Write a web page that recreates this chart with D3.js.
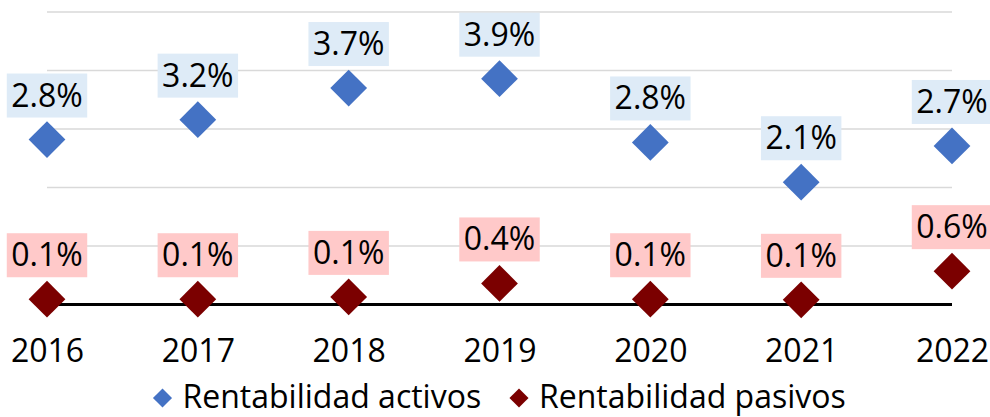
<!DOCTYPE html>
<html><head><meta charset="utf-8">
<script src="https://cdn.jsdelivr.net/npm/d3@7"></script>
<style>body{margin:0;background:#fff}svg{display:block;font-family:"Open Sans",sans-serif}</style>
</head><body><svg id="c" width="990" height="417"></svg>
<script>
const years = ["2016","2017","2018","2019","2020","2021","2022"];
const activos = [2.82, 3.16, 3.7, 3.86, 2.77, 2.09, 2.71];
const pasivos = [0.09, 0.09, 0.13, 0.36, 0.09, 0.08, 0.57];
const yTicks = [0, 1, 2, 3, 4, 5];
const seriesNames = ["Rentabilidad activos", "Rentabilidad pasivos"];
const colors = ["#4472C4", "#7B0000"];
const boxColors = ["#DEEBF7", "#FFC9C9"];

const svg = d3.select("#c");
const x = d3.scalePoint().domain(years).range([47, 952]);
const y = d3.scaleLinear().domain([0, 5]).range([304.5, 12]);
const fmt = d3.format(".1f");
const FS = 32;

// gridlines
svg.append("g").selectAll("line").data(yTicks.filter(d => d > 0)).join("line")
  .attr("x1", 47).attr("x2", 952)
  .attr("y1", d => y(d)).attr("y2", d => y(d))
  .attr("stroke", "#D9D9D9").attr("stroke-width", 1.5);

// x axis
const xAxis = d3.axisBottom(x).tickSize(0).tickPadding(0);
const gx = svg.append("g").attr("transform", `translate(0,${y(0)})`).call(xAxis);
gx.select(".domain").attr("d", `M47,0H952`).attr("stroke", "#000").attr("stroke-width", 3);
gx.selectAll(".tick text").attr("font-size", FS).attr("fill", "#000")
  .attr("font-family", "Open Sans").attr("dy", null).attr("y", 57.5);

const diamond = d3.symbol().type(d3.symbolSquare).size(26 * 26);

[activos, pasivos].forEach((vals, si) => {
  const g = svg.append("g");
  g.selectAll("path").data(vals).join("path")
    .attr("d", diamond)
    .attr("transform", (d, i) => `translate(${x(years[i])},${y(d)}) rotate(45)`)
    .attr("fill", colors[si]);
  const lg = g.append("g");
  vals.forEach((v, i) => {
    const cx = x(years[i]);
    const bottom = y(v) - 22;
    const t = lg.append("text").text(fmt(v) + "%")
      .attr("x", cx).attr("y", bottom - 11).attr("text-anchor", "middle")
      .attr("font-size", FS).attr("fill", "#000");
    const bb = t.node().getBBox();
    lg.insert("rect", "text")
      .attr("x", bb.x - 4.5).attr("width", bb.width + 9)
      .attr("y", bottom - 44).attr("height", 44)
      .attr("fill", boxColors[si]);
  });
});

// legend
const legX = [162.5, 519];
const smallD = d3.symbol().type(d3.symbolSquare).size(13.5 * 13.5);
seriesNames.forEach((n, i) => {
  svg.append("path").attr("d", smallD)
    .attr("transform", `translate(${legX[i]},398) rotate(45)`)
    .attr("fill", colors[i]);
  svg.append("text").text(n).attr("x", legX[i] + 20).attr("y", 408)
    .attr("font-size", FS).attr("fill", "#000");
});
</script></body></html>
